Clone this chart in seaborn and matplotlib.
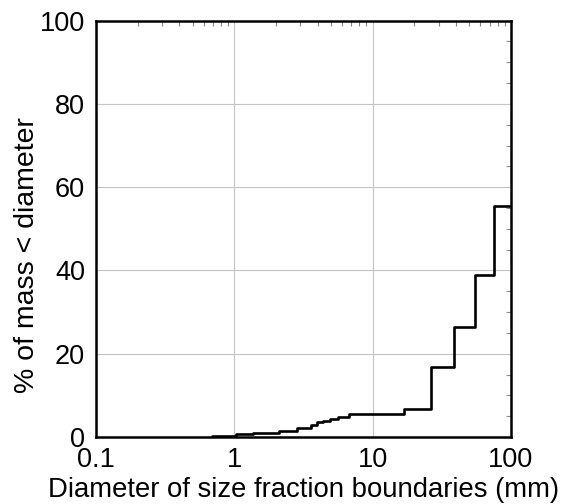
import matplotlib
matplotlib.use("Agg")
import matplotlib.pyplot as plt
import matplotlib.ticker as mticker
import seaborn as sns
import pandas as pd

# Size fraction boundaries (mm) and cumulative % of mass finer than diameter
diameter_mm = [0.69, 1.02, 1.37, 2.1, 2.85, 3.6, 3.95, 4.35, 4.9, 5.6, 6.8,
               16.8, 26.3, 38.8, 55.1, 75.3, 100]
pct_finer = [0.35, 0.65, 1.0, 1.4, 2.1, 2.8, 3.5, 3.9, 4.4, 4.9, 5.5,
             6.6, 16.9, 26.5, 38.9, 55.4, 55.4]

x_ticks = [0.1, 1, 10, 100]
x_ticklabels = ["0.1", "1", "10", "100"]
y_ticks = [0, 20, 40, 60, 80, 100]

sns.set_theme(style="white")
plt.rcParams["font.family"] = ["Liberation Sans", "DejaVu Sans"]

df = pd.DataFrame({"d": diameter_mm, "p": pct_finer})

fig = plt.figure(figsize=(5.69, 5.04), dpi=100)
ax = fig.add_axes([0.1687, 0.133, 0.7293, 0.826])

sns.lineplot(data=df, x="d", y="p", ax=ax, color="black", linewidth=1.9,
             drawstyle="steps-post", estimator=None, sort=False)

ax.set_xscale("log")
ax.set_xlim(0.1, 100)
ax.set_ylim(0, 100)
ax.set_xticks(x_ticks)
ax.set_xticklabels(x_ticklabels)
ax.set_yticks(y_ticks)
ax.xaxis.set_minor_locator(mticker.LogLocator(base=10, subs=range(2, 10)))
ax.xaxis.set_minor_formatter(mticker.NullFormatter())
ax.yaxis.set_minor_locator(mticker.MultipleLocator(5))

ax.grid(True, which="major", color="#c4c4c4", linewidth=0.8)
ax.set_axisbelow(True)
for s in ax.spines.values():
    s.set_color("black")
    s.set_linewidth(1.8)

ax.tick_params(axis="both", which="major", direction="in", length=0,
               labelsize=19.5, top=True, right=True, colors="black")
ax.tick_params(axis="x", which="major", pad=7)
ax.tick_params(axis="y", which="major", pad=8)
ax.tick_params(axis="both", which="minor", direction="in", length=3.5,
               width=0.8, top=True, right=True, color="#888888")

ax.set_xlabel("Diameter of size fraction boundaries (mm)", fontsize=19.8,
              color="black")
ax.xaxis.set_label_coords(0.5, -0.095)
ax.xaxis.label.set_va("top")
ax.set_ylabel("% of mass < diameter", fontsize=20.5, color="black")
ax.yaxis.set_label_coords(-0.135, 0.438)

fig.savefig("out.png", dpi=100)
